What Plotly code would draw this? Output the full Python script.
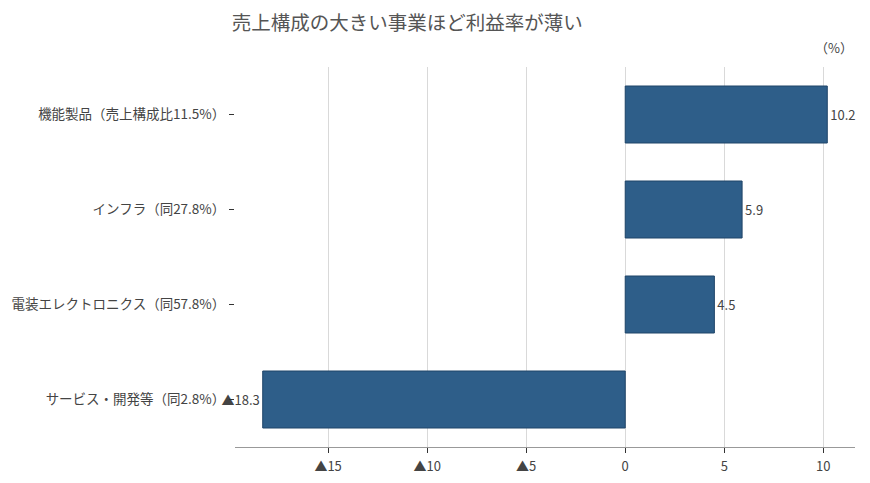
import plotly.graph_objects as go

FONT = "Noto Sans CJK JP"

categories = [
    "機能製品（売上構成比11.5%）",
    "インフラ（同27.8%）",
    "電装エレクトロニクス（同57.8%）",
    "サービス・開発等（同2.8%）",
]
margins = [10.2, 5.9, 4.5, -18.3]
tick_vals = [-15, -10, -5, 0, 5, 10]


def fmt(v):
    # negative numbers are written with a triangle, Japanese style
    if v < 0:
        return f"▲{abs(v):g}"
    return f"{v:g}"


fig = go.Figure()
fig.add_trace(
    go.Bar(
        x=margins,
        y=categories,
        orientation="h",
        width=0.6,
        marker=dict(color="#2e5e89", line=dict(color="#1f4468", width=1)),
        text=[fmt(v) for v in margins],
        textposition="outside",
        cliponaxis=False,
        textfont=dict(family=FONT, size=13, color="#444444"),
        hoverinfo="skip",
    )
)

fig.update_layout(
    width=870,
    height=483,
    margin=dict(l=227, r=23, t=59, b=44),
    paper_bgcolor="white",
    plot_bgcolor="white",
    showlegend=False,
    font=dict(family=FONT, size=13, color="#444444"),
    title=dict(
        text="売上構成の大きい事業ほど利益率が薄い",
        x=0.459,
        xanchor="center",
        y=0.968,
        yanchor="middle",
        font=dict(family=FONT, size=19.5, color="#555555"),
    ),
    annotations=[
        dict(
            text="（%）",
            xref="paper",
            yref="paper",
            x=1.0,
            y=1.021,
            xanchor="right",
            yanchor="bottom",
            showarrow=False,
            font=dict(family=FONT, size=13, color="#444444"),
        )
    ],
)

fig.update_xaxes(
    range=[-19.7, 11.6],
    tickvals=tick_vals,
    ticktext=[fmt(v) for v in tick_vals],
    showgrid=True,
    gridcolor="#d9d9d9",
    gridwidth=1,
    zeroline=False,
    showline=True,
    linecolor="#999999",
    linewidth=1,
    ticks="outside",
    ticklen=5,
    tickcolor="#333333",
    ticklabelstandoff=2,
    automargin=False,
    tickfont=dict(family=FONT, size=13, color="#444444"),
)
fig.update_yaxes(
    autorange="reversed",
    showgrid=False,
    zeroline=False,
    showline=False,
    ticks="outside",
    ticklen=5,
    tickcolor="#333333",
    ticklabelstandoff=1,
    automargin=False,
    tickfont=dict(family=FONT, size=13.5, color="#444444"),
)

fig.write_html("out.html")
